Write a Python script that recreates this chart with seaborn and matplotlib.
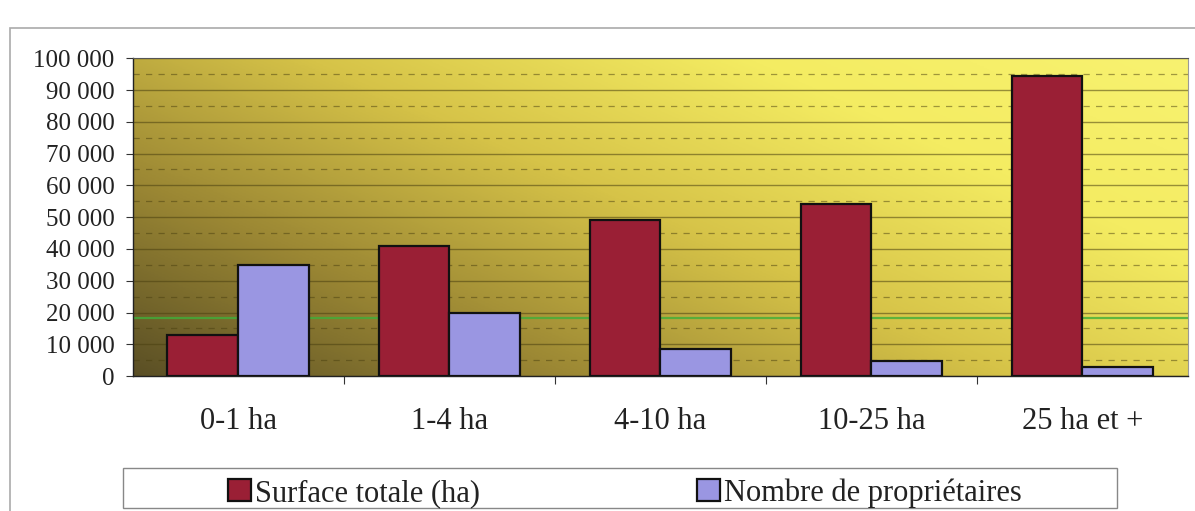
import numpy as np
import pandas as pd
import seaborn as sns
import matplotlib.pyplot as plt
from matplotlib.colors import LinearSegmentedColormap
from matplotlib.patches import Rectangle
from matplotlib.ticker import FuncFormatter, MultipleLocator, FixedLocator

categories = ['0-1 ha', '1-4 ha', '4-10 ha', '10-25 ha', '25 ha et +']
surface = [13000, 41000, 49000, 54000, 94500]
proprietaires = [35000, 20000, 8500, 4700, 3000]
series = ['Surface totale (ha)', 'Nombre de propriétaires']

df = pd.DataFrame({
    'classe': categories * 2,
    'valeur': surface + proprietaires,
    'serie': [series[0]] * len(categories) + [series[1]] * len(categories),
})

sns.set_style('white')
plt.rcParams['font.family'] = ['Liberation Serif', 'DejaVu Serif']

fig = plt.figure(figsize=(11.95, 5.11), dpi=100)
ax = fig.add_axes([0.111, 0.264, 0.883, 0.622])

# yellow gradient background, dark bottom-left to bright top-right
cmap = LinearSegmentedColormap.from_list('bg', ['#5a4f25', '#9c8834', '#d6c348', '#f4ec62', '#f8f270'])
xx, yy = np.meshgrid(np.linspace(0, 1, 300), np.linspace(0, 1, 200))
grad = 0.6 * xx + 0.4 * yy
ax.imshow(grad, cmap=cmap, extent=[0, 1, 0, 1], origin='lower', aspect='auto',
          transform=ax.transAxes, zorder=0)

sns.barplot(data=df, x='classe', y='valeur', hue='serie', order=categories,
            palette={series[0]: '#9a1f35', series[1]: '#9a96e2'},
            width=0.67, edgecolor='#111111', linewidth=1.6, saturation=1,
            legend=True, ax=ax, zorder=3)

ax.set_xlim(-0.5, 4.5)
ax.set_ylim(0, 100000)
ax.yaxis.set_major_locator(MultipleLocator(10000))
ax.yaxis.set_minor_locator(MultipleLocator(5000))
ax.yaxis.set_major_formatter(FuncFormatter(lambda v, p: f'{int(v):,}'.replace(',', ' ')))
ax.grid(axis='y', which='major', color='#4a4010', lw=1.0, alpha=0.55, zorder=1)
ax.grid(axis='y', which='minor', color='#4a4010', lw=0.9, ls=(0, (5, 5)), alpha=0.5, zorder=1)
ax.grid(axis='x', visible=False)
ax.set_axisbelow(True)

# scan artefact line
ax.axhline(18200, color='#3fae3a', lw=1.6, alpha=0.8, zorder=2)

ax.set_xlabel('')
ax.set_ylabel('')
ax.tick_params(axis='y', which='major', left=True, length=5, width=0.8, color='#333333',
               labelsize=18, pad=8, labelcolor='#222222')
ax.tick_params(axis='y', which='minor', left=False)
ax.xaxis.set_minor_locator(FixedLocator([0.5, 1.5, 2.5, 3.5]))
ax.tick_params(axis='x', which='major', bottom=False, labelsize=22, pad=19, labelcolor='#222222')
ax.tick_params(axis='x', which='minor', bottom=True, length=6, width=0.8, color='#333333')

for side in ['left', 'bottom']:
    ax.spines[side].set_color('#222222')
    ax.spines[side].set_linewidth(1.0)
ax.spines['top'].set_color('#555555')
ax.spines['right'].set_color('#999999')

handles, labels = ax.get_legend_handles_labels()
ax.get_legend().remove()
leg = fig.legend(handles, labels, loc='center left', bbox_to_anchor=(228 / 1195, 1 - 493 / 511),
                 ncol=2, frameon=False, fontsize=22,
                 handlelength=0.75, handleheight=0.75, handletextpad=0.13,
                 columnspacing=7.1, borderaxespad=0, borderpad=0)
for t in leg.get_texts():
    t.set_color('#222222')

# legend box
fig.patches.append(Rectangle((123 / 1195, 3 / 511), 994 / 1195, 40 / 511,
                             transform=fig.transFigure, fill=False, edgecolor='#888888', lw=1.0))
# outer chart border
fig.patches.append(Rectangle((0.008, -0.05), 1.2, 0.995, transform=fig.transFigure,
                             fill=False, edgecolor='#aaaaaa', lw=1.2))

fig.savefig('out.png', dpi=100)
